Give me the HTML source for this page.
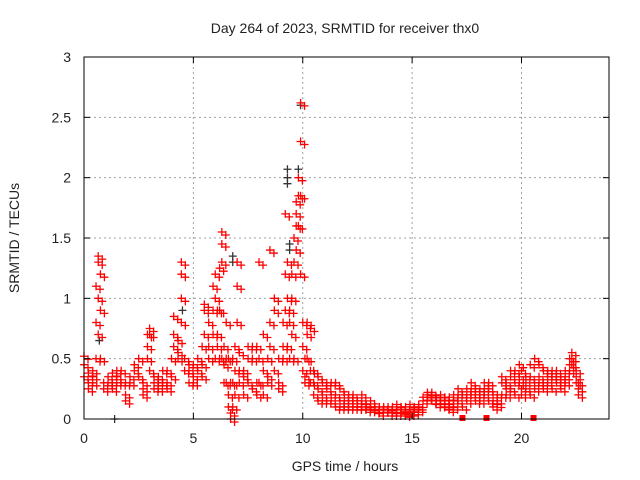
<!DOCTYPE html>
<html><head><meta charset="utf-8"><style>
body{margin:0;background:#fff;}
svg{display:block;font-family:"Liberation Sans",sans-serif;}
</style></head><body>
<svg id="chart" width="640" height="480" viewBox="0 0 640 480" xmlns="http://www.w3.org/2000/svg">
<rect width="640" height="480" fill="#fff"/>
<text x="345" y="33" font-size="14" text-anchor="middle" fill="#222">Day 264 of 2023, SRMTID for receiver thx0</text>
<text x="345" y="471" font-size="14" text-anchor="middle" fill="#222">GPS time / hours</text>
<text transform="translate(19,238) rotate(-90)" font-size="14" text-anchor="middle" fill="#222">SRMTID / TECUs</text>
<g id="grid"></g>
<g id="marks"></g>
<rect x="84" y="57" width="525" height="362" fill="none" stroke="#000" stroke-width="1"/>
<g id="ticks"></g>
</svg>
<script>
const xTicks=[0,5,10,15,20];
const yTicks=[0,0.5,1,1.5,2,2.5,3];
const yTickLabels=["0","0.5","1","1.5","2","2.5","3"];
const redTimes=[0.0,0.2,0.4,0.55,0.65,0.75,0.9,1.1,1.3,1.5,1.7,1.9,2.1,2.3,2.5,2.7,2.9,3.0,3.2,3.4,3.6,3.8,4.0,4.1,4.3,4.45,4.6,4.8,5.0,5.2,5.4,5.5,5.7,5.9,6.0,6.1,6.2,6.3,6.4,6.5,6.6,6.7,6.8,6.9,7.0,7.1,7.3,7.5,7.7,7.9,8.0,8.2,8.4,8.5,8.7,8.9,9.1,9.2,9.3,9.4,9.5,9.6,9.7,9.8,9.9,10.0,10.1,10.2,10.35,10.5,10.7,10.9,11.1,11.3,11.5,11.7,11.9,12.1,12.3,12.5,12.7,12.9,13.1,13.3,13.5,13.7,13.9,14.1,14.3,14.5,14.7,14.9,15.1,15.3,15.5,15.7,15.9,16.1,16.3,16.5,16.7,16.9,17.1,17.3,17.5,17.7,17.9,18.1,18.3,18.5,18.7,18.9,19.1,19.3,19.5,19.7,19.9,20.0,20.2,20.4,20.6,20.8,21.0,21.2,21.4,21.6,21.8,22.0,22.2,22.3,22.5,22.6];
const redValues=[[0.52,0.45,0.35],[0.3,0.38,0.25],[0.3,0.35,0.4],[0.5,0.8,1.1],[1.35,1.3,1.0,0.7],[1.2,0.9,0.5],[0.3,0.25],[0.3,0.35],[0.3,0.38,0.25],[0.35,0.4,0.3],[0.4,0.3],[0.2,0.15,0.3],[0.3,0.35],[0.4,0.45],[0.5,0.35],[0.2,0.25,0.3],[0.5,0.6,0.7],[0.7,0.75,0.4],[0.3,0.25,0.35],[0.3,0.25,0.35],[0.3,0.4],[0.3,0.4,0.25],[0.5,0.35],[0.85,0.7,0.6],[0.55,0.5,0.65],[1.0,1.2,1.3,0.8],[0.5,0.4],[0.4,0.3,0.45],[0.35,0.45,0.3],[0.4,0.5],[0.45,0.35,0.6],[0.9,0.95,0.7],[0.6,0.8,0.5],[0.7,0.9,1.1],[1.2,1.0,0.5],[0.9,0.7,0.6],[1.25,0.9,0.5],[1.45,1.55,1.3,0.5],[0.6,0.45,0.3],[0.5,0.8,0.3],[0.2,0.1,0.5],[0.05,0.0,0.3],[0.1,0.3,0.5],[0.6,0.4,0.2],[1.3,1.1,0.8],[0.55,0.4,0.3],[0.4,0.35,0.2],[0.3,0.5,0.6],[0.6,0.5,0.25],[0.6,0.3,0.2],[1.3,0.5,0.3],[0.7,0.4,0.2],[0.5,0.3,0.35],[1.4,0.8,0.6],[0.9,1.0,0.4],[0.5,0.3,0.25],[0.6,0.8,0.5],[1.7,1.2,0.9],[1.0,1.3,0.6],[0.8,0.9,0.5],[1.2,1.0,0.7],[1.5,1.3,0.5],[1.8,1.6,1.4,1.7],[1.85,2.0,1.6],[2.62,2.3,1.85,1.2],[0.8,0.6,0.4],[0.5,0.35,0.3],[0.8,0.7,0.5],[0.75,0.4,0.3],[0.3,0.2,0.4],[0.15,0.25,0.35],[0.2,0.3,0.15],[0.25,0.15,0.3],[0.3,0.2,0.15],[0.3,0.2,0.1],[0.25,0.15,0.1],[0.15,0.2,0.1],[0.1,0.2,0.15],[0.2,0.15,0.1],[0.15,0.1,0.1],[0.2,0.15,0.1],[0.1,0.08,0.12],[0.1,0.15,0.08],[0.1,0.07],[0.08,0.1,0.05],[0.1,0.08],[0.05,0.1,0.08],[0.07,0.1,0.05],[0.05,0.08,0.12],[0.08,0.05,0.1],[0.06,0.1,0.04],[0.08,0.05,0.12],[0.1,0.08,0.06],[0.12,0.1,0.08],[0.18,0.15],[0.22,0.2,0.18],[0.2,0.15,0.22],[0.15,0.18,0.12],[0.15,0.12,0.2],[0.1,0.15,0.18],[0.12,0.18,0.08],[0.15,0.1,0.2],[0.2,0.15,0.25],[0.1,0.2],[0.25,0.2,0.15],[0.25,0.2,0.3],[0.2,0.25,0.15],[0.15,0.2,0.25],[0.25,0.2,0.3],[0.3,0.25,0.15],[0.2,0.15,0.1],[0.15,0.2,0.12],[0.2,0.3,0.35],[0.3,0.25,0.2],[0.35,0.25,0.4],[0.3,0.2,0.4],[0.35,0.45,0.3],[0.4,0.25,0.2],[0.3,0.35,0.25],[0.45,0.35,0.2],[0.5,0.3,0.25],[0.45,0.35,0.3],[0.3,0.25,0.4],[0.4,0.3,0.35],[0.35,0.25,0.4],[0.3,0.35,0.4],[0.35,0.3,0.25],[0.35,0.4,0.3],[0.5,0.45,0.4],[0.55,0.5,0.45],[0.4,0.35,0.3],[0.3,0.2,0.25]];
const zeroTimes=[17.3,18.4,20.55];
const blackTimes=[0.7,1.4,4.5,6.8,6.8,9.3,9.3,9.3,9.4,9.4,9.8,9.9];
const blackValues=[0.65,0.0,0.9,1.35,1.3,2.07,2.0,1.95,1.45,1.4,2.07,2.6];

const X0=84,X1=609,Y0=419,Y1=57,XMAX=24,YMAX=3;
const xs=v=>X0+(X1-X0)*v/XMAX;
const ys=v=>Y0-(Y0-Y1)*v/YMAX;
const NS="http://www.w3.org/2000/svg";
function mk(tag,attrs,parent){const e=document.createElementNS(NS,tag);for(const k in attrs)e.setAttribute(k,attrs[k]);parent.appendChild(e);return e;}
const grid=document.getElementById('grid'),ticks=document.getElementById('ticks'),marks=document.getElementById('marks');
xTicks.forEach(t=>{
  const x=xs(t);
  if(t>0){const g=mk('line',{x1:x,x2:x,y1:Y0,y2:Y1,stroke:'#a0a0a0','stroke-dasharray':'2,3'},grid);
  
  }
  mk('line',{x1:x,x2:x,y1:Y0,y2:Y0-6,stroke:'#000'},ticks);
  mk('line',{x1:x,x2:x,y1:Y1,y2:Y1+6,stroke:'#000'},ticks);
  const l=mk('text',{x:x,y:Y0+24,'font-size':14,'text-anchor':'middle',fill:'#222'},ticks);
  l.textContent=String(t);
  
  
});
yTicks.forEach((t,i)=>{
  const y=ys(t);
  if(t>0&&t<YMAX){const g=mk('line',{x1:X0,x2:X1,y1:y,y2:y,stroke:'#a0a0a0','stroke-dasharray':'2,3'},grid);
  
  }
  mk('line',{x1:X0,x2:X0+6,y1:y,y2:y,stroke:'#000'},ticks);
  mk('line',{x1:X1,x2:X1-6,y1:y,y2:y,stroke:'#000'},ticks);
  const l=mk('text',{x:X0-13,y:y+5,'font-size':14,'text-anchor':'end',fill:'#222'},ticks);
  l.textContent=yTickLabels[i];
  
  
});
function cross(x,y,col,name){
  const p=mk('path',{d:`M${x-4},${y}h8M${x},${y-4}v8`,stroke:col,'stroke-width':1.3,fill:'none'},marks);
  
  
}
blackTimes.forEach((t,i)=>cross(xs(t),ys(blackValues[i]),'#333','black-point'));
redTimes.forEach((t,i)=>{
  redValues[i].forEach(v=>{
    cross(xs(t),ys(v),'#f00','red-point');
    cross(xs(t)+4,ys(v)+3,'#f00','red-point');
  });
});
zeroTimes.forEach(t=>{
  const r=mk('rect',{x:xs(t)-3,y:Y0-4,width:6,height:6,fill:'#f00'},marks);
  
  
});
</script>
</body></html>
